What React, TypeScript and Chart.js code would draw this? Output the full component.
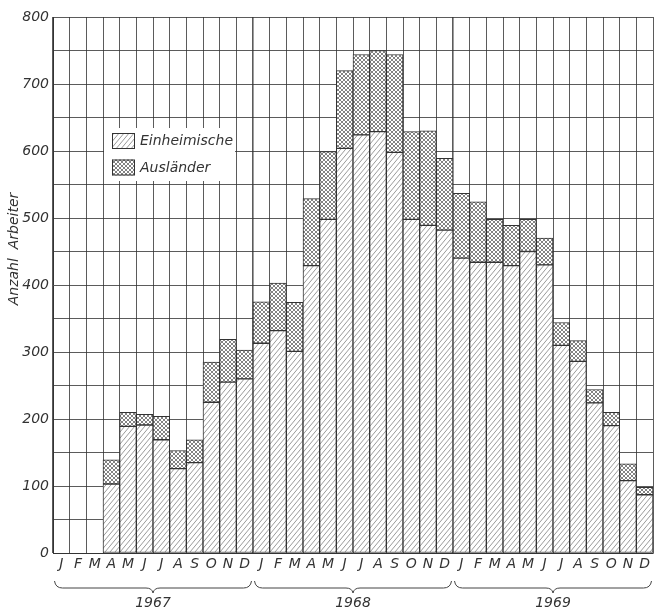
import React, { useEffect, useRef } from 'react';
import { Chart, registerables } from 'chart.js';

Chart.register(...registerables);

const months = ['J', 'F', 'M', 'A', 'M', 'J', 'J', 'A', 'S', 'O', 'N', 'D'];
const years = ['1967', '1968', '1969'];

const einheimische1967 = [null, null, null, 103, 189, 191, 169, 126, 135, 225, 255, 260];
const auslaender1967 = [null, null, null, 36, 21, 16, 35, 27, 34, 60, 64, 43];
const einheimische1968 = [313, 332, 301, 429, 498, 604, 624, 629, 598, 498, 489, 482];
const auslaender1968 = [62, 71, 73, 100, 101, 116, 120, 121, 146, 131, 141, 107];
const einheimische1969 = [440, 434, 434, 429, 450, 430, 310, 286, 224, 190, 108, 87];
const auslaender1969 = [97, 90, 64, 60, 48, 40, 34, 31, 20, 20, 25, 11];

const yTicks = [0, 100, 200, 300, 400, 500, 600, 700, 800];
const yTitle = 'Anzahl  Arbeiter';
const legendLabels = ['Einheimische', 'Ausländer'];

const FONT = '"DejaVu Sans", sans-serif';
const INK = '#333333';

function makeDiagonal(): CanvasPattern | string {
  const w = 5;
  const h = 6;
  const c = document.createElement('canvas');
  c.width = w;
  c.height = h;
  const g = c.getContext('2d');
  if (!g) return '#ddd';
  g.fillStyle = '#ffffff';
  g.fillRect(0, 0, w, h);
  g.strokeStyle = '#808080';
  g.lineWidth = 0.8;
  for (const off of [-w, 0, w]) {
    g.beginPath();
    g.moveTo(off, h);
    g.lineTo(off + w, 0);
    g.stroke();
  }
  return g.createPattern(c, 'repeat') || '#ddd';
}

function makeCross(): CanvasPattern | string {
  const s = 4;
  const c = document.createElement('canvas');
  c.width = s;
  c.height = s;
  const g = c.getContext('2d');
  if (!g) return '#bbb';
  g.fillStyle = '#ffffff';
  g.fillRect(0, 0, s, s);
  g.strokeStyle = '#5a5a5a';
  g.lineWidth = 0.75;
  for (const off of [-s, 0, s]) {
    g.beginPath();
    g.moveTo(off, s);
    g.lineTo(off + s, 0);
    g.stroke();
    g.beginPath();
    g.moveTo(off, 0);
    g.lineTo(off + s, s);
    g.stroke();
  }
  return g.createPattern(c, 'repeat') || '#bbb';
}

export default function App() {
  const ref = useRef<HTMLCanvasElement | null>(null);

  useEffect(() => {
    const canvas = ref.current;
    if (!canvas) return;
    const diag = makeDiagonal();
    const cross = makeCross();

    const labels: string[] = [];
    years.forEach(() => months.forEach((m) => labels.push(m)));
    const einheimische = [...einheimische1967, ...einheimische1968, ...einheimische1969];
    const auslaender = [...auslaender1967, ...auslaender1968, ...auslaender1969];

    const decorations = {
      id: 'decorations',
      afterDraw(chart: any) {
        const ctx = chart.ctx as CanvasRenderingContext2D;
        const xs = chart.scales.x;
        const half = (xs.getPixelForValue(1) - xs.getPixelForValue(0)) / 2;
        ctx.save();

        // legend
        ctx.fillStyle = '#ffffff';
        ctx.fillRect(104, 128, 131, 53);
        const fills = [diag, cross];
        legendLabels.forEach((t, i) => {
          const y = 133 + i * 26.5;
          ctx.fillStyle = fills[i] as any;
          ctx.fillRect(112, y, 23, 16);
          ctx.strokeStyle = INK;
          ctx.lineWidth = 1;
          ctx.strokeRect(112.5, y + 0.5, 22, 15);
          ctx.fillStyle = INK;
          ctx.font = `italic 14px ${FONT}`;
          ctx.textAlign = 'left';
          ctx.textBaseline = 'middle';
          ctx.fillText(t, 140, y + 8.5);
        });

        // braces and year labels
        ctx.strokeStyle = '#444';
        ctx.lineWidth = 1;
        years.forEach((yr, k) => {
          const x0 = xs.getPixelForValue(12 * k) - half + 1.5;
          const x1 = xs.getPixelForValue(12 * k + 11) + half - 1.5;
          const xm = (x0 + x1) / 2;
          const yl = 588;
          ctx.beginPath();
          ctx.moveTo(x0, 581);
          ctx.quadraticCurveTo(x0 + 1, yl, x0 + 8, yl);
          ctx.lineTo(xm - 7, yl);
          ctx.quadraticCurveTo(xm - 1, yl, xm, yl + 5);
          ctx.quadraticCurveTo(xm + 1, yl, xm + 7, yl);
          ctx.lineTo(x1 - 8, yl);
          ctx.quadraticCurveTo(x1 - 1, yl, x1, 581);
          ctx.stroke();
          ctx.fillStyle = INK;
          ctx.font = `italic 14px ${FONT}`;
          ctx.textAlign = 'center';
          ctx.textBaseline = 'middle';
          ctx.fillText(yr, xm, 603);
        });

        // y axis title
        ctx.translate(14, 249);
        ctx.rotate(-Math.PI / 2);
        ctx.fillStyle = INK;
        ctx.font = `italic 14px ${FONT}`;
        ctx.textAlign = 'center';
        ctx.textBaseline = 'middle';
        ctx.fillText(yTitle, 0, 0);
        ctx.restore();
      },
    };

    const chart = new Chart(canvas, {
      type: 'bar',
      data: {
        labels,
        datasets: [
          {
            label: legendLabels[0],
            data: einheimische as any,
            backgroundColor: diag as any,
            borderColor: INK,
            borderWidth: 1,
            borderSkipped: false,
            categoryPercentage: 1,
            barPercentage: 1,
          },
          {
            label: legendLabels[1],
            data: auslaender as any,
            backgroundColor: cross as any,
            borderColor: INK,
            borderWidth: 1,
            borderSkipped: false,
            categoryPercentage: 1,
            barPercentage: 1,
          },
        ],
      },
      options: {
        responsive: false,
        animation: false,
        devicePixelRatio: 1,
        layout: { padding: { top: 17, right: 1, left: 0, bottom: 0 } },
        plugins: {
          legend: { display: false },
          tooltip: { enabled: false },
        },
        scales: {
          x: {
            stacked: true,
            z: 1,
            afterFit: (s: any) => {
              s.height = 57;
            },
            grid: {
              offset: true,
              color: 'rgba(50,50,50,0.8)',
              lineWidth: (c: any) => (c.index % 12 === 0 ? 1.6 : 1),
              drawTicks: false,
            },
            border: { display: true, color: INK, width: 1 },
            ticks: {
              autoSkip: false,
              maxRotation: 0,
              minRotation: 0,
              padding: 3,
              color: INK,
              font: { family: FONT, size: 14, style: 'italic' },
            },
          },
          y: {
            stacked: true,
            z: 1,
            min: 0,
            max: 800,
            afterFit: (s: any) => {
              s.width = 53;
            },
            grid: {
              color: 'rgba(50,50,50,0.8)',
              lineWidth: 1,
              drawTicks: false,
            },
            border: { display: true, color: INK, width: 1 },
            ticks: {
              stepSize: 50,
              padding: 4,
              color: INK,
              font: { family: FONT, size: 14, style: 'italic' },
              callback: (v: any) => (yTicks.includes(Number(v)) ? String(v) : ''),
            },
          },
        },
      },
      plugins: [decorations],
    });

    return () => chart.destroy();
  }, []);

  return (
    <div style={{ position: 'absolute', left: 0, top: 0, width: 654, height: 610, background: '#fff' }}>
      <canvas ref={ref} width={654} height={610} />
    </div>
  );
}
